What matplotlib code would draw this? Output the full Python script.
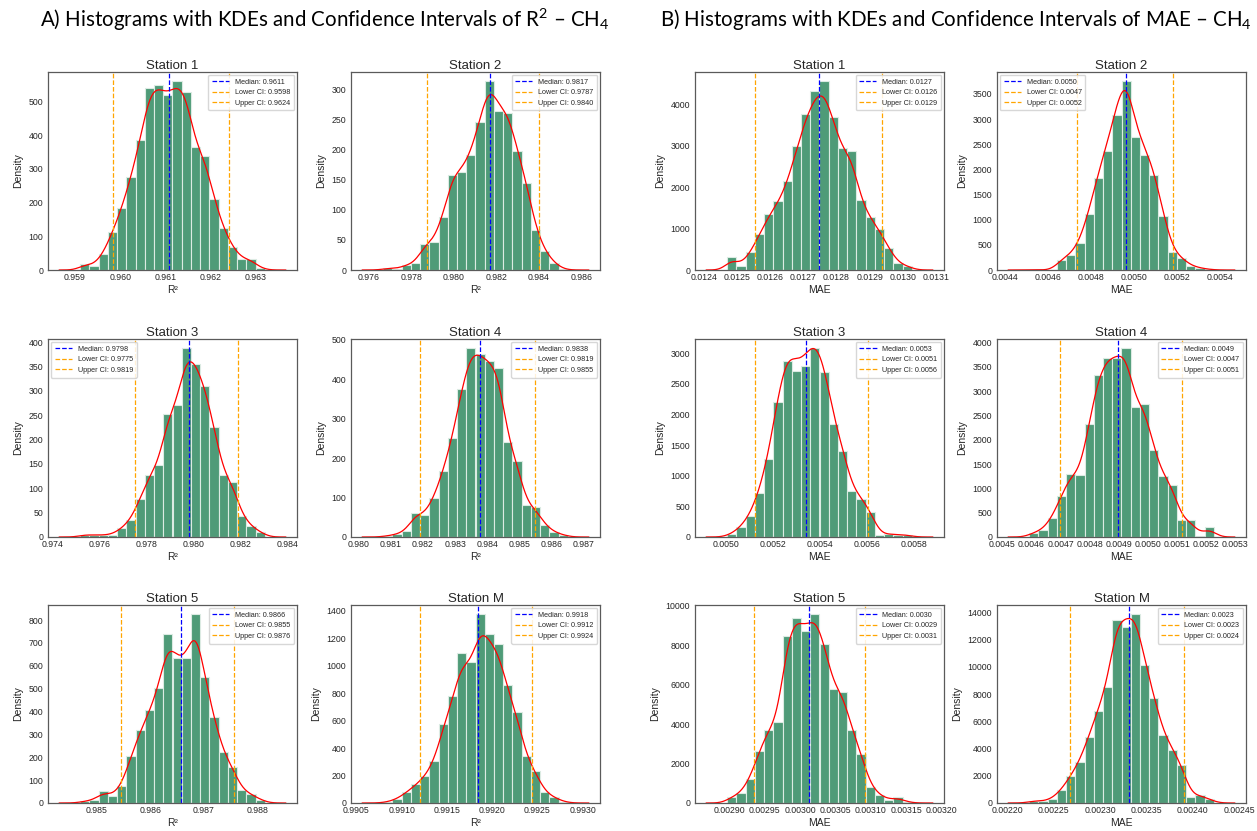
import numpy as np
import matplotlib
matplotlib.use("Agg")
import matplotlib.pyplot as plt
from matplotlib.ticker import FixedLocator, MaxNLocator, ScalarFormatter

plt.rcParams["font.family"] = ["Liberation Sans", "DejaVu Sans"]
plt.rcParams["mathtext.fontset"] = "custom"
plt.rcParams["mathtext.rm"] = "Lato"
plt.rcParams["mathtext.it"] = "Lato"

# -------------------------------
# DATA (density of each of the 20 bins)
# -------------------------------
stations = ["Station 1", "Station 2", "Station 3", "Station 4", "Station 5", "Station M"]

# R2 histograms
r2_s1 = [18, 13, 48, 113, 183, 277, 385, 540, 548, 520, 560, 530, 365, 340, 212, 125, 68, 33, 33, 5]
r2_s2 = [3, 2, 8, 11, 43, 47, 88, 159, 163, 191, 246, 314, 264, 262, 198, 145, 67, 31, 12, 1]
r2_s3 = [5, 4, 4, 5, 18, 35, 79, 127, 147, 252, 270, 387, 356, 310, 226, 127, 113, 43, 23, 10]
r2_s4 = [3, 7, 15, 62, 55, 100, 168, 252, 375, 478, 463, 445, 428, 242, 192, 80, 75, 30, 13, 5]
r2_s5 = [8, 12, 52, 30, 75, 205, 318, 405, 505, 740, 635, 635, 825, 552, 375, 222, 158, 57, 40, 15]
r2_sm = [8, 30, 80, 135, 200, 305, 575, 780, 1095, 1025, 1375, 1230, 1160, 860, 665, 345, 235, 80, 45, 10]
r2_hist = [r2_s1, r2_s2, r2_s3, r2_s4, r2_s5, r2_sm]

r2_range = [(0.959114, 0.963205), (0.976667, 0.985365), (0.975170, 0.983040),
            (0.980760, 0.986510), (0.984688, 0.988138), (0.990796, 0.992836)]
r2_median = [0.96108, 0.98170, 0.97982, 0.98376, 0.98657, 0.99184]
r2_lower = [0.95984, 0.97874, 0.97751, 0.98190, 0.98546, 0.99120]
r2_upper = [0.96242, 0.98400, 0.98190, 0.98550, 0.98756, 0.99244]
r2_xticks = [
    [0.959, 0.960, 0.961, 0.962, 0.963],
    [0.976, 0.978, 0.980, 0.982, 0.984, 0.986],
    [0.974, 0.976, 0.978, 0.980, 0.982, 0.984],
    [0.980, 0.981, 0.982, 0.983, 0.984, 0.985, 0.986, 0.987],
    [0.985, 0.986, 0.987, 0.988],
    [0.9905, 0.9910, 0.9915, 0.9920, 0.9925, 0.9930],
]

# MAE histograms
mae_s1 = [320, 100, 430, 880, 1360, 1660, 2150, 3000, 3780, 4330, 4560, 3700, 2960, 2880, 1700, 1290, 1000, 540, 170, 100]
mae_s2 = [8, 0, 0, 205, 290, 530, 1110, 1830, 2360, 3090, 3750, 2640, 2290, 1890, 1070, 360, 230, 80, 40, 10]
mae_s3 = [50, 160, 350, 720, 1280, 2200, 2880, 2710, 2800, 3080, 2700, 1840, 1400, 750, 620, 410, 35, 45, 40, 30]
mae_s4 = [90, 150, 400, 850, 1290, 1280, 2330, 3340, 3680, 3690, 3880, 2680, 2740, 1790, 1260, 1070, 340, 340, 20, 210]
mae_s5 = [300, 500, 1230, 2650, 3720, 4100, 8450, 9380, 8700, 9560, 8070, 5780, 5620, 3720, 2500, 820, 420, 140, 290, 40]
mae_sm = [170, 120, 300, 950, 1950, 3000, 4850, 6750, 8500, 13450, 12950, 13850, 10100, 7700, 5000, 3900, 2800, 450, 580, 270]
mae_hist = [mae_s1, mae_s2, mae_s3, mae_s4, mae_s5, mae_sm]

mae_range = [(0.012469, 0.013028), (0.004512, 0.005370), (0.005006, 0.005793),
             (0.004592, 0.005227), (0.002897, 0.003158), (0.0022234, 0.0024226)]
mae_median = [0.012748, 0.004964, 0.005343, 0.004899, 0.003013, 0.002331]
mae_lower = [0.012554, 0.004733, 0.005123, 0.004698, 0.002935, 0.002267]
mae_upper = [0.012939, 0.005180, 0.005604, 0.005116, 0.003092, 0.002390]
mae_xticks = [
    [0.0124, 0.0125, 0.0126, 0.0127, 0.0128, 0.0129, 0.0130, 0.0131],
    [0.0044, 0.0046, 0.0048, 0.0050, 0.0052, 0.0054],
    [0.0050, 0.0052, 0.0054, 0.0056, 0.0058],
    [0.0045, 0.0046, 0.0047, 0.0048, 0.0049, 0.0050, 0.0051, 0.0052, 0.0053],
    [0.00285, 0.00290, 0.00295, 0.00300, 0.00305, 0.00310, 0.00315, 0.00320],
    [0.00220, 0.00225, 0.00230, 0.00235, 0.00240, 0.00245],
]

# -------------------------------
# Style
# -------------------------------
BAR_COLOR = "#4F9B78"
BAR_EDGE = "#DCEBE3"
SPINE = "#5a5a5a"
TEXT = "#262626"


def draw_panel(ax, heights, brange, med, lo, hi, xticks, xlabel, title, loc):
    heights = np.asarray(heights, dtype=float)
    edges = np.linspace(brange[0], brange[1], len(heights) + 1)
    width = edges[1] - edges[0]
    centers = edges[:-1] + width / 2

    ax.hist(centers, bins=edges, weights=heights, color=BAR_COLOR,
            edgecolor=BAR_EDGE, linewidth=0.8)

    # gaussian kde of the binned values (seaborn style, cut=3)
    w = heights / heights.sum()
    bw = 0.75 * width
    xs = np.linspace(edges[0] - 3 * bw, edges[-1] + 3 * bw, 500)
    z = (xs[:, None] - centers[None, :]) / bw
    dens = (w[None, :] * np.exp(-0.5 * z ** 2)).sum(axis=1) / (bw * np.sqrt(2 * np.pi))
    ax.plot(xs, dens, color="red", linewidth=0.9)

    ax.axvline(med, color="blue", linestyle="--", linewidth=0.9, label=f"Median: {med:.4f}")
    ax.axvline(lo, color="orange", linestyle="--", linewidth=0.9, label=f"Lower CI: {lo:.4f}")
    ax.axvline(hi, color="orange", linestyle="--", linewidth=0.9, label=f"Upper CI: {hi:.4f}")

    ax.set_ylim(bottom=0)
    ax.xaxis.set_major_locator(FixedLocator(xticks))
    fmt = ScalarFormatter(useOffset=False)
    fmt.set_scientific(False)
    ax.xaxis.set_major_formatter(fmt)
    ax.yaxis.set_major_locator(MaxNLocator(nbins=9, steps=[1, 2, 2.5, 5, 10]))

    ax.set_title(title, fontsize=9.5, color=TEXT, pad=2)
    ax.set_xlabel(xlabel, fontsize=7.5, color=TEXT, labelpad=2)
    ax.set_ylabel("Density", fontsize=7.5, color=TEXT, labelpad=4)
    ax.tick_params(axis="x", labelsize=6.3, length=0, pad=2.5, colors=TEXT)
    ax.tick_params(axis="y", labelsize=6.3, length=0, pad=3.5, colors=TEXT)
    for sp in ax.spines.values():
        sp.set_color(SPINE)
        sp.set_linewidth(0.9)

    leg = ax.legend(loc=loc, fontsize=5.2, handlelength=2.4, borderpad=0.5,
                    labelspacing=0.5, framealpha=0.85, edgecolor="#d0d0d0",
                    fancybox=True, borderaxespad=0.4)
    for t in leg.get_texts():
        t.set_color(TEXT)


# -------------------------------
# Figure
# -------------------------------
W, H = 1257, 831
fig = plt.figure(figsize=(W / 100, H / 100), dpi=100)

col_x = [48, 351, 695, 997]
row_top = [72, 339, 605]
ax_w, ax_h = 249, 198

r2_loc = ["upper right", "upper right", "upper left", "upper right", "upper right", "upper right"]
mae_loc = ["upper right", "upper left", "upper right", "upper right", "upper right", "upper right"]

for i in range(6):
    r, c = divmod(i, 2)
    y0 = 1 - (row_top[r] + ax_h) / H
    ax = fig.add_axes([col_x[c] / W, y0, ax_w / W, ax_h / H])
    draw_panel(ax, r2_hist[i], r2_range[i], r2_median[i], r2_lower[i], r2_upper[i],
               r2_xticks[i], "R²", stations[i], r2_loc[i])

    ax = fig.add_axes([col_x[c + 2] / W, y0, ax_w / W, ax_h / H])
    draw_panel(ax, mae_hist[i], mae_range[i], mae_median[i], mae_lower[i], mae_upper[i],
               mae_xticks[i], "MAE", stations[i], mae_loc[i])

fig.text(325 / W, 1 - 20 / H, "A) Histograms with KDEs and Confidence Intervals of R$^2$ – CH$_4$",
         family="Lato", fontsize=14.8, ha="center", va="center", color="black")
fig.text(956 / W, 1 - 20 / H, "B) Histograms with KDEs and Confidence Intervals of MAE – CH$_4$",
         family="Lato", fontsize=14.8, ha="center", va="center", color="black")

fig.savefig("out.png", dpi=100, facecolor="white")
